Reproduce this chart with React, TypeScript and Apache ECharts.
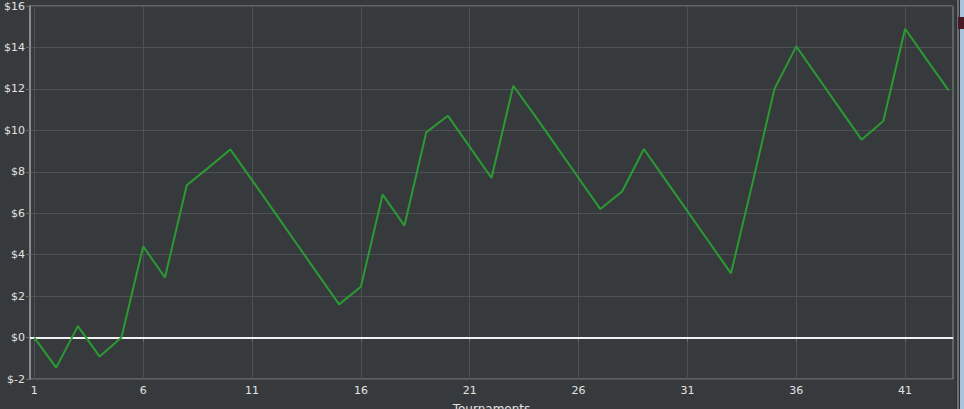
import React, { useEffect, useRef } from "react";
import * as echarts from "echarts";

const tournaments: number[] = [
  1, 2, 3, 4, 5, 6, 7, 8, 9, 10, 11, 12, 13, 14, 15, 16, 17, 18, 19, 20, 21, 22,
  23, 24, 25, 26, 27, 28, 29, 30, 31, 32, 33, 34, 35, 36, 37, 38, 39, 40, 41, 42, 43,
];
const winnings: number[] = [
  0, -1.45, 0.55, -0.92, 0, 4.4, 2.9, 7.35, 8.2, 9.08, 7.6, 6.1, 4.6, 3.1, 1.6, 2.45,
  6.9, 5.4, 9.9, 10.7, 9.2, 7.7, 12.15, 10.7, 9.2, 7.7, 6.2, 7.05, 9.1, 7.6, 6.1,
  4.6, 3.1, 7.5, 12.0, 14.05, 12.55, 11.05, 9.55, 10.45, 14.9, 13.4, 11.93,
];
const xTickValues: number[] = [1, 6, 11, 16, 21, 26, 31, 36, 41];
const xAxisTitle = "Tournaments";

export default function App() {
  const ref = useRef<HTMLDivElement>(null);
  useEffect(() => {
    if (!ref.current) return;
    const chart = echarts.init(ref.current, undefined, { renderer: "svg" });
    const labelStyle = {
      color: "#e2e2e2",
      fontFamily: "DejaVu Sans",
      fontSize: 11,
    };
    chart.setOption({
      animation: false,
      backgroundColor: "#373a3d",
      grid: {
        left: 30,
        right: 11,
        top: 6,
        bottom: 30,
        containLabel: false,
        outerBoundsMode: "none",
        show: true,
        borderColor: "#8a8c8e",
        borderWidth: 1,
        backgroundColor: "#373a3d",
      },
      xAxis: {
        type: "value",
        min: 0.8,
        max: 43.2,
        name: xAxisTitle,
        nameLocation: "middle",
        nameGap: 24,
        nameTextStyle: { ...labelStyle, fontSize: 12, verticalAlign: "top" },
        axisLine: { show: true, lineStyle: { color: "#8a8c8e", width: 2 } },
        axisTick: {
          show: true,
          customValues: xTickValues,
          length: 4,
          lineStyle: { color: "#6a6d70" },
        },
        axisLabel: { ...labelStyle, customValues: xTickValues, margin: 6 },
        splitLine: { show: true, lineStyle: { color: "#4d5155", width: 1 } },
      },
      yAxis: {
        type: "value",
        min: -2,
        max: 16,
        interval: 2,
        axisLine: { show: true, lineStyle: { color: "#8a8c8e", width: 2 } },
        axisTick: { show: true, length: 4, lineStyle: { color: "#6a6d70" } },
        axisLabel: {
          ...labelStyle,
          margin: 5,
          formatter: (v: number) => `$${v}`,
        },
        splitLine: { show: true, lineStyle: { color: "#4d5155", width: 1 } },
      },
      graphic: [
        { type: "rect", shape: { x: 956, y: 0, width: 8, height: 409 }, style: { fill: "#2f3235" } },
        { type: "rect", shape: { x: 957, y: 0, width: 2, height: 409 }, style: { fill: "#6b6f73" } },
        { type: "rect", shape: { x: 960, y: 0, width: 4, height: 409 }, style: { fill: "#a9c3dd" } },
        { type: "rect", shape: { x: 958, y: 17, width: 6, height: 12 }, style: { fill: "#4a1a24" } },
      ],
      series: [
        {
          type: "line",
          data: tournaments.map((t, i) => [t, winnings[i]]),
          showSymbol: false,
          symbol: "none",
          lineStyle: { color: "#2a9a32", width: 2 },
          z: 3,
          markLine: {
            silent: true,
            symbol: "none",
            label: { show: false },
            lineStyle: { color: "#f2f2f2", width: 2, type: "solid" },
            data: [{ yAxis: 0 }],
            z: 2,
          },
        },
      ],
    });
    return () => chart.dispose();
  }, []);
  return (
    <div
      ref={ref}
      style={{ position: "absolute", left: 0, top: 0, width: 964, height: 409 }}
    />
  );
}
